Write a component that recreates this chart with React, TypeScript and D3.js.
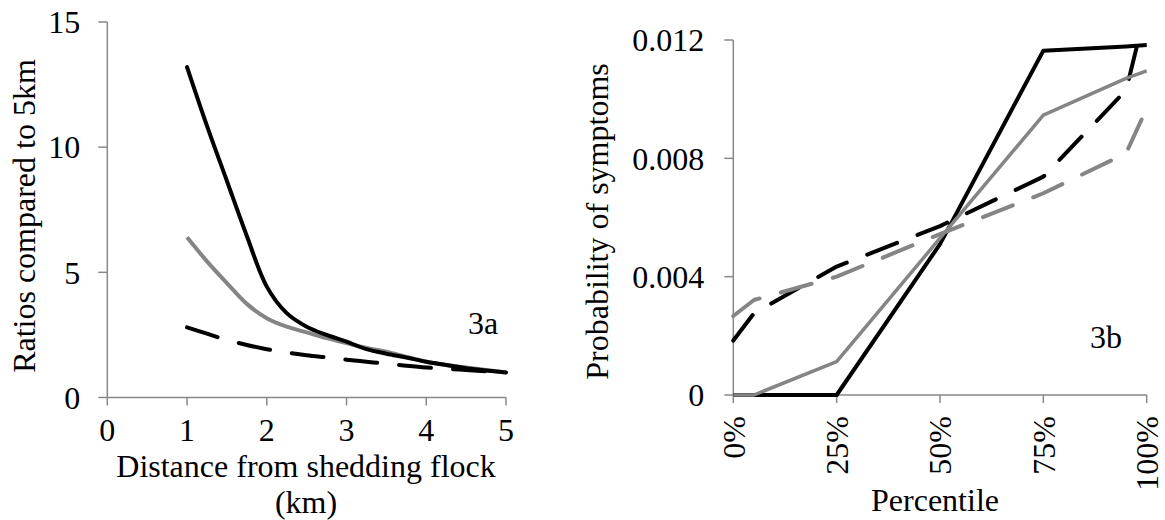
import React from "react";
import * as d3 from "d3";

// ---- Chart 3a data ----
const distKm = [1, 1.25, 1.5, 1.75, 2, 2.25, 2.5, 2.75, 3, 3.25, 3.5, 3.75, 4, 4.25, 4.5, 4.75, 5];
const ratioBlackSolid = [13.2, 10.85, 8.65, 6.45, 4.43, 3.37, 2.83, 2.5, 2.23, 1.93, 1.75, 1.6, 1.43, 1.3, 1.17, 1.08, 1.0];
const ratioGraySolid = [6.4, 5.44, 4.57, 3.74, 3.17, 2.83, 2.6, 2.37, 2.17, 1.98, 1.83, 1.62, 1.43, 1.3, 1.2, 1.1, 1.0];
const ratioBlackDashed = [2.8, 2.55, 2.3, 2.1, 1.93, 1.8, 1.69, 1.6, 1.51, 1.43, 1.35, 1.27, 1.2, 1.15, 1.1, 1.05, 1.0];
const ticks3aX = [0, 1, 2, 3, 4, 5];
const ticks3aY = [0, 5, 10, 15];

// ---- Chart 3b data ----
const pct = [0, 5, 25, 50, 75, 95, 100];
const pctBlackDashed = [0, 5, 25, 50, 75, 95, 98];
const probBlackSolid = [0, 0, 0, 0.0051, 0.01164, 0.01178, 0.01183];
const probGraySolid = [0, 0, 0.00113, 0.0053, 0.00946, 0.0107, 0.01096];
const probBlackDashed = [0.00184, 0.00276, 0.00434, 0.00571, 0.00738, 0.0103, 0.012];
const probGrayDashed = [0.00267, 0.00321, 0.004, 0.00544, 0.00682, 0.00817, 0.00969];
const ticks3bX = [0, 25, 50, 75, 100];
const ticks3bY = [0, 0.004, 0.008, 0.012];

const AXIS = "#898989";
const GRAY = "#858585";
const DASH = "32 22";
const TXT: React.CSSProperties = { fontFamily: '"Liberation Serif"', fontSize: 32 };

export default function App() {
  const xA = d3.scaleLinear().domain([0, 5]).range([107.3, 506]);
  const yA = d3.scaleLinear().domain([0, 15]).range([397.5, 22]);
  const xB = d3.scaleLinear().domain([0, 100]).range([733.3, 1146.7]);
  const yB = d3.scaleLinear().domain([0, 0.012]).range([395, 40]);

  const lineA = d3
    .line<[number, number]>()
    .x((d) => xA(d[0]))
    .y((d) => yA(d[1]))
    .curve(d3.curveCatmullRom.alpha(0.5));
  const lineB = d3
    .line<[number, number]>()
    .x((d) => xB(d[0]))
    .y((d) => yB(d[1]));

  const zip = (xs: number[], ys: number[]) => xs.map((x, i) => [x, ys[i]] as [number, number]);
  const fmtB = (v: number) => (v === 0 ? "0" : v.toFixed(3));

  return (
    <svg width={1165} height={520} style={{ position: "absolute", left: 0, top: 0, background: "#fff" }}>
      {/* ===== Chart 3a axes ===== */}
      <line x1={xA(0)} x2={xA(0)} y1={yA(15)} y2={yA(0)} stroke={AXIS} strokeWidth={1.5} />
      <line x1={xA(0)} x2={xA(5)} y1={yA(0)} y2={yA(0)} stroke={AXIS} strokeWidth={1.5} />
      {ticks3aY.map((t) => (
        <line key={"ayl" + t} x1={xA(0) - 9} x2={xA(0)} y1={yA(t)} y2={yA(t)} stroke={AXIS} strokeWidth={1.5} />
      ))}
      {ticks3aY.map((t) => (
        <text key={"ayt" + t} x={xA(0) - 27} y={yA(t)} dy="0.35em" textAnchor="end" fill="#000" style={TXT}>
          {t}
        </text>
      ))}
      {ticks3aX.map((t) => (
        <line key={"axl" + t} x1={xA(t)} x2={xA(t)} y1={yA(0)} y2={yA(0) + 8} stroke={AXIS} strokeWidth={1.5} />
      ))}
      {ticks3aX.map((t) => (
        <text key={"axt" + t} x={xA(t)} y={441} textAnchor="middle" fill="#000" style={TXT}>
          {t}
        </text>
      ))}
      {/* ===== Chart 3a lines ===== */}
      <path d={lineA(zip(distKm, ratioGraySolid)) || ""} fill="none" stroke={GRAY} strokeWidth={4} />
      <path
        d={lineA(zip(distKm, ratioBlackDashed)) || ""}
        fill="none"
        stroke="#000"
        strokeWidth={4}
        strokeDasharray={DASH}
        strokeLinecap="round"
      />
      <path
        d={lineA(zip(distKm, ratioBlackSolid)) || ""}
        fill="none"
        stroke="#000"
        strokeWidth={4}
        strokeLinecap="round"
      />
      <text transform="translate(35,216) rotate(-90)" textAnchor="middle" fill="#000" style={TXT}>
        Ratios compared to 5km
      </text>
      <text x={306} y={476.5} textAnchor="middle" fill="#000" style={TXT}>
        Distance from shedding flock
      </text>
      <text x={306} y={512.5} textAnchor="middle" fill="#000" style={TXT}>
        (km)
      </text>
      <text x={468} y={334} fill="#000" style={TXT}>
        3a
      </text>

      {/* ===== Chart 3b axes ===== */}
      <line x1={xB(0)} x2={xB(0)} y1={yB(0.012)} y2={yB(0)} stroke={AXIS} strokeWidth={1.5} />
      <line x1={xB(0)} x2={xB(100)} y1={yB(0)} y2={yB(0)} stroke={AXIS} strokeWidth={1.5} />
      {ticks3bY.map((t) => (
        <line key={"byl" + t} x1={xB(0) - 9} x2={xB(0)} y1={yB(t)} y2={yB(t)} stroke={AXIS} strokeWidth={1.5} />
      ))}
      {ticks3bY.map((t) => (
        <text key={"byt" + t} x={xB(0) - 29} y={yB(t)} dy="0.35em" textAnchor="end" fill="#000" style={TXT}>
          {fmtB(t)}
        </text>
      ))}
      {ticks3bX.map((t) => (
        <line key={"bxl" + t} x1={xB(t)} x2={xB(t)} y1={yB(0)} y2={yB(0) + 8} stroke={AXIS} strokeWidth={1.5} />
      ))}
      {ticks3bX.map((t) => (
        <text
          key={"bxt" + t}
          transform={`translate(${xB(t)},416) rotate(-90)`}
          dy="0.35em"
          textAnchor="end"
          fill="#000"
          style={TXT}
        >
          {t + "%"}
        </text>
      ))}
      {/* ===== Chart 3b lines ===== */}
      <path
        d={lineB(zip(pct, probBlackSolid)) || ""}
        fill="none"
        stroke="#000"
        strokeWidth={4}
        strokeLinejoin="round"
      />
      <path
        d={lineB(zip(pctBlackDashed, probBlackDashed)) || ""}
        fill="none"
        stroke="#000"
        strokeWidth={4}
        strokeDasharray={DASH}
        strokeLinecap="round"
        strokeLinejoin="round"
      />
      <path
        d={lineB(zip(pct, probGraySolid)) || ""}
        fill="none"
        stroke={GRAY}
        strokeWidth={3.5}
        strokeLinejoin="round"
      />
      <path
        d={lineB(zip(pct, probGrayDashed)) || ""}
        fill="none"
        stroke={GRAY}
        strokeWidth={4}
        strokeDasharray={DASH}
        strokeLinecap="round"
        strokeLinejoin="round"
      />
      <text transform="translate(608,221.5) rotate(-90)" textAnchor="middle" fill="#000" style={TXT}>
        Probability of symptoms
      </text>
      <text x={935} y={511} textAnchor="middle" fill="#000" style={TXT}>
        Percentile
      </text>
      <text x={1090} y={348} fill="#000" style={TXT}>
        3b
      </text>
    </svg>
  );
}
